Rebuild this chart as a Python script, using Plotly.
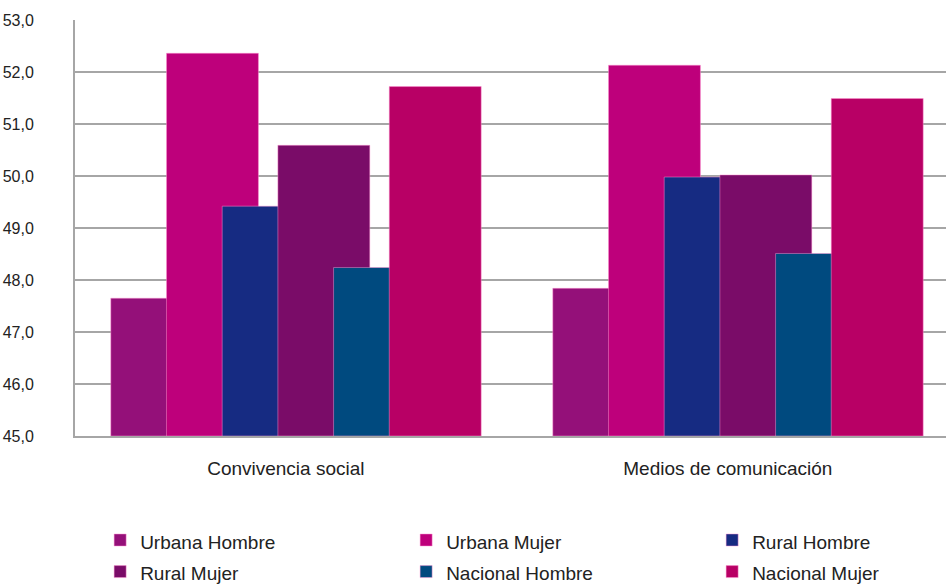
import plotly.graph_objects as go

categories = ["Convivencia social", "Medios de comunicación"]
series_names = ["Urbana Hombre", "Urbana Mujer", "Rural Hombre",
                "Rural Mujer", "Nacional Hombre", "Nacional Mujer"]
urbana_hombre = [47.65, 47.84]
urbana_mujer = [52.36, 52.13]
rural_hombre = [49.42, 49.98]
rural_mujer = [50.59, 50.02]
nacional_hombre = [48.24, 48.51]
nacional_mujer = [51.72, 51.49]
series_values = [urbana_hombre, urbana_mujer, rural_hombre,
                 rural_mujer, nacional_hombre, nacional_mujer]
colors = ["#941079", "#BE007B", "#162B82", "#7A0C68", "#004A7F", "#B80065"]
y_ticks = [45, 46, 47, 48, 49, 50, 51, 52, 53]

FONT = "Liberation Sans"
bar_w = 0.208
step = 0.126
first_left = -0.419
x_idx = list(range(len(categories)))

fig = go.Figure()
for i, (name, vals, col) in enumerate(zip(series_names, series_values, colors)):
    fig.add_trace(go.Bar(
        x=x_idx, y=[v - 45 for v in vals], base=45,
        name="<span style='font-size:19px'>" + name + "</span>",
        width=bar_w, offset=first_left + i * step,
        marker=dict(color=col, line=dict(color="rgba(255,150,210,0.6)", width=0.8)),
    ))

fig.update_layout(
    width=946, height=584,
    margin=dict(l=75, r=0, t=20, b=148, autoexpand=False),
    paper_bgcolor="white", plot_bgcolor="white",
    barmode="overlay",
    separators=",.",
    showlegend=True,
    legend=dict(orientation="h", x=-0.001, y=-0.2, xanchor="left", yanchor="top",
                indentation=26, entrywidth=235, entrywidthmode="pixels",
                font=dict(family=FONT, size=22, color="#222"),
                itemclick=False, tracegroupgap=0),
    font=dict(family=FONT, color="#222"),
)
fig.update_xaxes(
    range=[-0.5, -0.5 + 871 / 442], automargin=False,
    tickmode="array", tickvals=[x - 0.023 for x in x_idx], ticktext=categories,
    ticks="outside", ticklen=14, tickcolor="rgba(0,0,0,0)",
    tickfont=dict(family=FONT, size=19, color="#222"),
    showline=True, linecolor="#A6A6A6", linewidth=2,
    showgrid=False, zeroline=False,
)
fig.update_yaxes(
    range=[45, 53], tickmode="array", tickvals=y_ticks, tickformat=".1f",
    automargin=False,
    ticks="outside", ticklen=36, tickcolor="rgba(0,0,0,0)",
    tickfont=dict(family=FONT, size=16, color="#222"),
    showline=True, linecolor="#A6A6A6", linewidth=2,
    showgrid=True, gridcolor="#A6A6A6", gridwidth=2, zeroline=False,
)

fig.write_html("out.html", config={"displayModeBar": False},
               post_script="document.body.style.margin='0px';")
